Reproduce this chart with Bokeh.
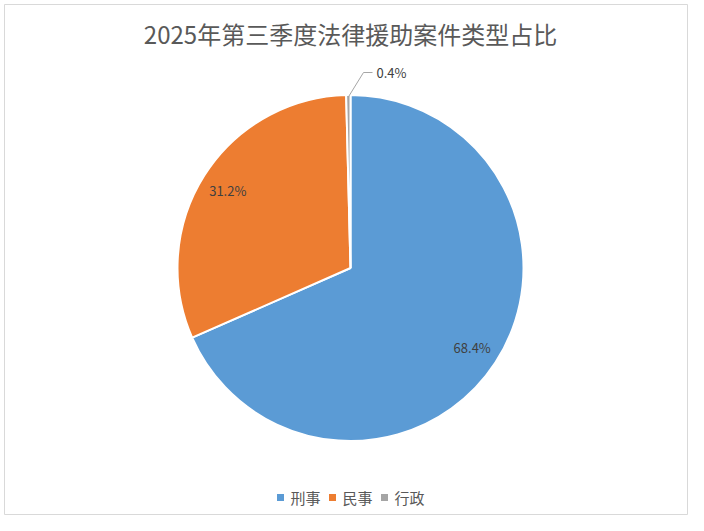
import math
from bokeh.plotting import figure
from bokeh.models import ColumnDataSource, Range1d
from bokeh.core.properties import value
from bokeh.embed import file_html
from bokeh.resources import INLINE

title = "2025年第三季度法律援助案件类型占比"
categories = ["刑事", "民事", "行政"]
shares = [68.4, 31.2, 0.4]
colors = ["#5B9BD5", "#ED7D31", "#A5A5A5"]

W, H = 688, 515
FONT = "Noto Sans CJK SC"

p = figure(width=W, height=H, output_backend="svg", toolbar_location=None,
           x_range=Range1d(0, W), y_range=Range1d(0, H), min_border=0,
           outline_line_color=None)
p.axis.visible = False
p.grid.visible = False
p.background_fill_color = "white"
p.border_fill_color = "white"

def px(X):
    return X
def py(Y):
    return H - Y

# chart-area border
p.quad(left=px(4), right=px(687), top=py(4), bottom=py(514),
       fill_color=None, line_color="#D9D9D9", line_width=1)

cx, cy, r = px(350), py(267.5), 173

total = sum(shares)
starts, ends, mids = [], [], []
a = 90.0
for s in shares:
    span = s / total * 360.0
    starts.append(math.radians(a))
    ends.append(math.radians(a - span))
    mids.append(math.radians(a - span / 2))
    a -= span

src = ColumnDataSource(dict(start=starts, end=ends, color=colors, cat=categories))
p.wedge(x=cx, y=cy, radius=r, start_angle="start", end_angle="end", direction="clock",
        fill_color="color", line_color="white", line_width=2, source=src)

lbl = [f"{s:.1f}%" for s in shares]
lx = [cx + 0.84 * r * math.cos(m) for m in mids[:2]]
ly = [cy + 0.84 * r * math.sin(m) for m in mids[:2]]
p.text(x=lx, y=ly, text=lbl[:2], text_font=value(FONT), text_font_size="13px",
       text_color="#404040", text_align="center", text_baseline="middle")

m = mids[2]
sx, sy = cx + (r - 2) * math.cos(m), cy + (r - 2) * math.sin(m)
ex, ey = px(363), py(72)
p.line(x=[sx, ex, px(372)], y=[sy, ey, ey], line_color="#A6A6A6", line_width=1)
p.text(x=[px(376)], y=[ey], text=[lbl[2]], text_font=value(FONT), text_font_size="13px",
       text_color="#404040", text_align="left", text_baseline="middle")

p.text(x=[px(350)], y=[py(33)], text=[title], text_font=value(FONT), text_font_size="24px",
       text_color="#595959", text_align="center", text_baseline="middle")

leg_x0 = [px(280), px(332), px(384)]
leg_y = py(497)
p.scatter(x=leg_x0, y=[leg_y] * 3, marker="square", size=7, fill_color=colors, line_color=None)
p.text(x=[x + 10 for x in leg_x0], y=[leg_y] * 3, text=categories, text_font=value(FONT),
       text_font_size="15px", text_color="#595959", text_align="left", text_baseline="middle")

open("out.html", "w").write(file_html(p, INLINE))
